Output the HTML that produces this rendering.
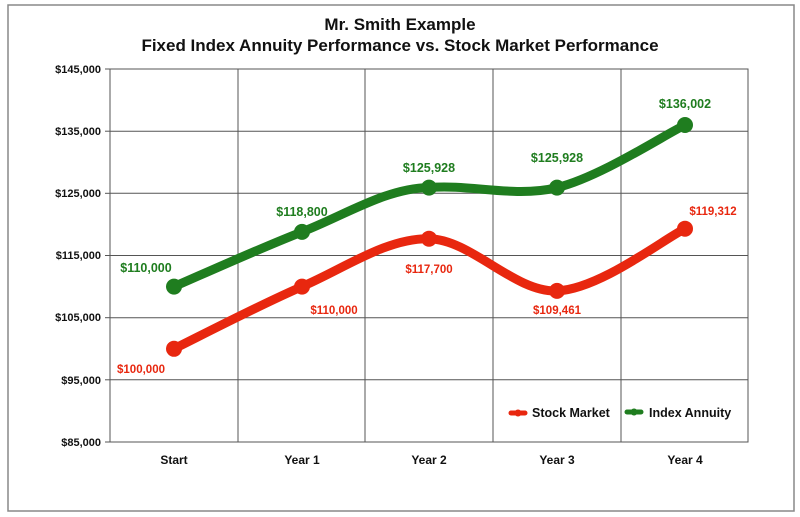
<!DOCTYPE html>
<html><head><meta charset="utf-8"><style>
body{margin:0;background:#fff;}
svg{display:block;font-family:"Liberation Sans",Arial,sans-serif;font-weight:bold;}
</style></head><body>
<svg width="800" height="517" viewBox="0 0 800 517">
<rect x="8" y="5" width="786" height="506" fill="#fff" stroke="#888" stroke-width="1.5"/>
<text x="400" y="30" font-size="17" text-anchor="middle" fill="#111">Mr. Smith Example</text>
<text x="400" y="51" font-size="17" text-anchor="middle" fill="#111">Fixed Index Annuity Performance vs. Stock Market Performance</text>
<g stroke="#555" stroke-width="1" fill="none">
<rect x="110" y="69" width="638" height="373"/>
<line x1="110" y1="131.2" x2="748" y2="131.2"/>
<line x1="110" y1="193.3" x2="748" y2="193.3"/>
<line x1="110" y1="255.5" x2="748" y2="255.5"/>
<line x1="110" y1="317.7" x2="748" y2="317.7"/>
<line x1="110" y1="379.8" x2="748" y2="379.8"/>
<line x1="238" y1="69" x2="238" y2="442"/>
<line x1="365" y1="69" x2="365" y2="442"/>
<line x1="493" y1="69" x2="493" y2="442"/>
<line x1="621" y1="69" x2="621" y2="442"/>
<line x1="105" y1="69" x2="110" y2="69"/><line x1="105" y1="131.2" x2="110" y2="131.2"/><line x1="105" y1="193.3" x2="110" y2="193.3"/><line x1="105" y1="255.5" x2="110" y2="255.5"/><line x1="105" y1="317.7" x2="110" y2="317.7"/><line x1="105" y1="379.8" x2="110" y2="379.8"/><line x1="105" y1="442" x2="110" y2="442"/>
</g>
<g font-size="11" text-anchor="end" fill="#111">
<text x="101" y="73">$145,000</text><text x="101" y="135">$135,000</text><text x="101" y="197">$125,000</text><text x="101" y="259">$115,000</text><text x="101" y="321">$105,000</text><text x="101" y="384">$95,000</text><text x="101" y="446">$85,000</text>
</g>
<g font-size="12" text-anchor="middle" fill="#111">
<text x="174" y="464">Start</text><text x="302" y="464">Year 1</text><text x="429" y="464">Year 2</text><text x="557" y="464">Year 3</text><text x="685" y="464">Year 4</text>
</g>
<path d="M174,348.8 C195.3,338.4 259.5,305 302,286.6 C344.5,268.3 386.5,238 429,238.7 C471.5,239.4 514.3,292.6 557,290.9 C599.7,289.2 663.7,239.1 685,228.7" fill="none" stroke="#e8270f" stroke-width="9" stroke-linecap="round"/>
<path d="M174,286.6 C195.3,277.5 259.5,248.4 302,231.9 C344.5,215.4 386.5,188 429,187.6 C471.5,184 514.3,198 557,187.6 C599.7,177.2 663.7,135.4 685,125" fill="none" stroke="#1f7d1f" stroke-width="9" stroke-linecap="round"/>
<g fill="#e8270f"><circle cx="174" cy="348.8" r="8"/><circle cx="302" cy="286.6" r="8"/><circle cx="429" cy="238.7" r="8"/><circle cx="557" cy="290.9" r="8"/><circle cx="685" cy="228.7" r="8"/></g>
<g fill="#1f7d1f"><circle cx="174" cy="286.6" r="8"/><circle cx="302" cy="231.9" r="8"/><circle cx="429" cy="187.6" r="8"/><circle cx="557" cy="187.6" r="8"/><circle cx="685" cy="125" r="8"/></g>
<g font-size="11.5" text-anchor="middle" fill="#e8270f">
<text x="141" y="373">$100,000</text><text x="334" y="314">$110,000</text><text x="429" y="273">$117,700</text><text x="557" y="314">$109,461</text><text x="713" y="215">$119,312</text>
</g>
<g font-size="12.5" text-anchor="middle" fill="#1f7d1f">
<text x="146" y="272">$110,000</text><text x="302" y="216">$118,800</text><text x="429" y="172">$125,928</text><text x="557" y="162">$125,928</text><text x="685" y="108">$136,002</text>
</g>
<line x1="511" y1="413" x2="525" y2="413" stroke="#e8270f" stroke-width="5" stroke-linecap="round"/>
<circle cx="518" cy="413" r="3.5" fill="#e8270f"/>
<text x="532" y="417" font-size="12.5" fill="#111">Stock Market</text>
<line x1="627" y1="412" x2="641" y2="412" stroke="#1f7d1f" stroke-width="5" stroke-linecap="round"/>
<circle cx="634" cy="412" r="3.5" fill="#1f7d1f"/>
<text x="649" y="417" font-size="12.5" fill="#111">Index Annuity</text>
</svg>
</body></html>
